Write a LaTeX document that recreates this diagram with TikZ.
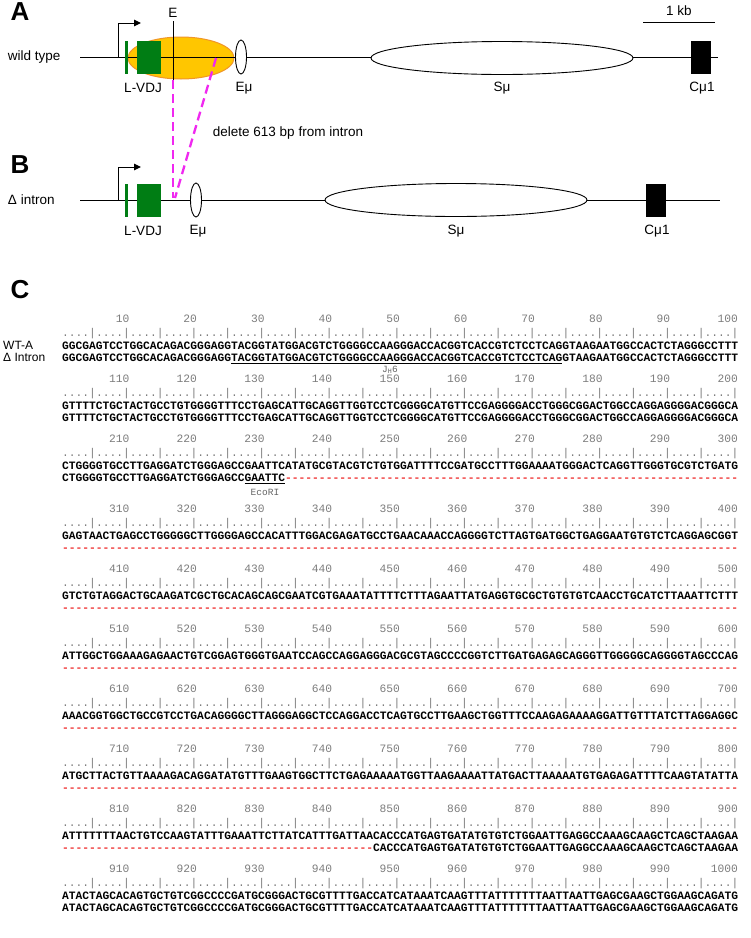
\documentclass[tikz,border=0pt]{standalone}
\usepackage{fontspec}
\setmainfont{Liberation Sans}
\newfontfamily\mono{Liberation Mono}
\usetikzlibrary{arrows.meta,shapes.geometric}
\definecolor{vdjgreen}{RGB}{0,125,20}
\definecolor{gold}{RGB}{255,198,0}
\definecolor{goldedge}{RGB}{240,150,40}
\definecolor{mag}{RGB}{240,40,240}
\definecolor{rulergray}{RGB}{125,125,125}
\definecolor{gapred}{RGB}{240,50,50}
\newcommand{\gaps}[1]{{\color{gapred}\count255=0 \loop\ifnum\count255<#1 -\advance\count255 by 1 \repeat}}
\begin{document}
\begin{tikzpicture}[x=1pt,y=-1pt,
  lbl/.style={font=\fontsize{13.5}{16}\selectfont, inner sep=0, outer sep=0},
  panel/.style={font=\fontsize{26}{30}\selectfont\bfseries, inner sep=0},
  seqtxt/.style={anchor=base west, inner sep=0, outer sep=0, font=\mono\fontsize{11.27}{13}\selectfont\bfseries},
  namelbl/.style={anchor=base west, inner sep=0, font=\fontsize{12}{13}\selectfont},
  ruler/.style={anchor=base west, inner sep=0, text=rulergray, font=\mono\fontsize{11.27}{13}\selectfont},
  tick/.style={anchor=base east, inner sep=0, text=rulergray, font=\mono\fontsize{11.27}{13}\selectfont},
  sitelbl/.style={anchor=base, inner sep=0, text=rulergray!80!black, font=\mono\fontsize{9.5}{11}\selectfont},
  gene/.style={line width=0.9pt},
  emu/.style={draw, fill=white, ellipse, line width=0.9pt, minimum width=11pt, minimum height=34pt, inner sep=0},
  smu/.style={draw, fill=white, ellipse, line width=0.9pt, minimum width=262pt, minimum height=33pt, inner sep=0},
  cmu/.style={fill=black, minimum width=20pt, minimum height=33pt, inner sep=0},
  vdj/.style={fill=vdjgreen, minimum width=24pt, minimum height=33pt, inner sep=0},
  leader/.style={fill=vdjgreen, minimum width=3.5pt, minimum height=33pt, inner sep=0},
  prom/.style={line width=1pt, -{Triangle[length=7pt,width=6.5pt]}},
  deldash/.style={mag, line width=2.3pt, dash pattern=on 9pt off 5pt},
  uline/.style={line width=0.8pt}
]
\useasboundingbox (0,0) rectangle (751,938);
\fill[white] (0,0) rectangle (751,938);

% ---------------- Panel A ----------------
\node[panel] (pA) at (20,12) {A};
\node[lbl, anchor=west] (wt) at (8,57) {wild type};
\node[fill=gold, draw=goldedge, line width=1pt, ellipse, minimum width=106pt, minimum height=42pt, inner sep=0] (orange) at (181,58) {};
\coordinate (a0) at (80,57);
\coordinate (a1) at (718,57);
\draw[gene] (a0) -- (a1);
\node[leader] (lA) at (126.5,57) {};
\node[vdj] (vA) at (149,57) {};
\coordinate (pa0) at (118,57);
\coordinate (pa1) at (118,23);
\coordinate (pa2) at (141,23);
\draw[prom] (pa0) -- (pa1) -- (pa2);
\node[lbl] (Elbl) at (173,13) {E};
\coordinate (e0) at (173,21);
\coordinate (e1) at (173,80);
\draw[line width=0.8pt] (e0) -- (e1);
\node[emu] (emuA) at (241,57) {};
\node[smu] (smuA) at (502,58) {};
\node[cmu] (cmuA) at (701,57.5) {};
\node[lbl] (tA1) at (143,88) {L-VDJ};
\node[lbl] (tA2) at (244,88) {Eμ};
\node[lbl] (tA3) at (502,88) {Sμ};
\node[lbl] (tA4) at (702,88) {Cμ1};
\node[lbl] (kb) at (679,11) {1 kb};
\coordinate (kb0) at (643,22);
\coordinate (kb1) at (715,22);
\draw[line width=0.8pt] (kb0) -- (kb1);

% deletion lines
\coordinate (d1) at (216,58);
\coordinate (d2) at (175,198);
\coordinate (d3) at (173,198);
\draw[deldash] (e1) -- (d3);
\draw[deldash] (d1) -- (d2);
\node[lbl] (del) at (288,133) {delete 613 bp from intron};

% ---------------- Panel B ----------------
\node[panel] (pB) at (20,165) {B};
\node[lbl, anchor=west] (di) at (8,200) {Δ intron};
\coordinate (b0) at (80,200);
\coordinate (b1) at (720,200);
\draw[gene] (b0) -- (b1);
\node[leader] (lB) at (126.5,200) {};
\node[vdj] (vB) at (149,200) {};
\coordinate (pb0) at (118,200);
\coordinate (pb1) at (118,167);
\coordinate (pb2) at (141,167);
\draw[prom] (pb0) -- (pb1) -- (pb2);
\node[emu] (emuB) at (196,200) {};
\node[smu] (smuB) at (456,200) {};
\node[cmu] (cmuB) at (656,200) {};
\node[lbl] (tB1) at (143,231) {L-VDJ};
\node[lbl] (tB2) at (198,231) {Eμ};
\node[lbl] (tB3) at (456,231) {Sμ};
\node[lbl] (tB4) at (657,231) {Cμ1};

% ---------------- Panel C ----------------
\node[panel] (pC) at (20,290) {C};
\foreach \r/\yb in {0/322.5,1/382.5,2/442.5,3/512.5,4/572.5,5/632.5,6/692.5,7/752.5,8/812.5,9/872.5} {
  \foreach \k in {1,...,10} {
    \pgfmathtruncatemacro{\num}{\r*100+\k*10}
    \node[tick] (n\num) at ({62+67.6*\k},\yb) {\num};
  }
  \node[ruler] (rul\r) at (62,\yb+14) {....|....|....|....|....|....|....|....|....|....|....|....|....|....|....|....|....|....|....|....|};
}
\node[namelbl] (wtA) at (3,349.5) {WT-A};
\node[namelbl] (dIn) at (3,361) {Δ Intron};

% row 1
\node[seqtxt] (s1a) at (62,349.5) {GGCGAGTCCTGGCACAGACGGGAGGTACGGTATGGACGTCTGGGGCCAAGGGACCACGGTCACCGTCTCCTCAGGTAAGAATGGCCACTCTAGGGCCTTT};
\node[seqtxt] (s1b) at (62,361) {GGCGAGTCCTGGCACAGACGGGAGGTACGGTATGGACGTCTGGGGCCAAGGGACCACGGTCACCGTCTCCTCAGGTAAGAATGGCCACTCTAGGGCCTTT};
\coordinate (j0) at (231,363.5);
\coordinate (j1) at (562,363.5);
\draw[uline] (j0) -- (j1);
\node[sitelbl] (jh) at (390,372.5) {J\textsubscript{H}6};
% row 2
\node[seqtxt] (s2a) at (62,409.5) {GTTTTCTGCTACTGCCTGTGGGGTTTCCTGAGCATTGCAGGTTGGTCCTCGGGGCATGTTCCGAGGGGACCTGGGCGGACTGGCCAGGAGGGGACGGGCA};
\node[seqtxt] (s2b) at (62,421) {GTTTTCTGCTACTGCCTGTGGGGTTTCCTGAGCATTGCAGGTTGGTCCTCGGGGCATGTTCCGAGGGGACCTGGGCGGACTGGCCAGGAGGGGACGGGCA};
% row 3
\node[seqtxt] (s3a) at (62,469.5) {CTGGGGTGCCTTGAGGATCTGGGAGCCGAATTCATATGCGTACGTCTGTGGATTTTCCGATGCCTTTGGAAAATGGGACTCAGGTTGGGTGCGTCTGATG};
\node[seqtxt] (s3b) at (62,481) {CTGGGGTGCCTTGAGGATCTGGGAGCCGAATTC\gaps{67}};
\coordinate (r0) at (244.5,483.5);
\coordinate (r1) at (285.1,483.5);
\draw[uline] (r0) -- (r1);
\node[sitelbl] (eco) at (265,495) {EcoRI};
% row 4
\node[seqtxt] (s4a) at (62,539.5) {GAGTAACTGAGCCTGGGGGCTTGGGGAGCCACATTTGGACGAGATGCCTGAACAAACCAGGGGTCTTAGTGATGGCTGAGGAATGTGTCTCAGGAGCGGT};
\node[seqtxt] (s4b) at (62,551) {\gaps{100}};
% row 5
\node[seqtxt] (s5a) at (62,599.5) {GTCTGTAGGACTGCAAGATCGCTGCACAGCAGCGAATCGTGAAATATTTTCTTTAGAATTATGAGGTGCGCTGTGTGTCAACCTGCATCTTAAATTCTTT};
\node[seqtxt] (s5b) at (62,611) {\gaps{100}};
% row 6
\node[seqtxt] (s6a) at (62,659.5) {ATTGGCTGGAAAGAGAACTGTCGGAGTGGGTGAATCCAGCCAGGAGGGACGCGTAGCCCCGGTCTTGATGAGAGCAGGGTTGGGGGCAGGGGTAGCCCAG};
\node[seqtxt] (s6b) at (62,671) {\gaps{100}};
% row 7
\node[seqtxt] (s7a) at (62,719.5) {AAACGGTGGCTGCCGTCCTGACAGGGGCTTAGGGAGGCTCCAGGACCTCAGTGCCTTGAAGCTGGTTTCCAAGAGAAAAGGATTGTTTATCTTAGGAGGC};
\node[seqtxt] (s7b) at (62,731) {\gaps{100}};
% row 8
\node[seqtxt] (s8a) at (62,779.5) {ATGCTTACTGTTAAAAGACAGGATATGTTTGAAGTGGCTTCTGAGAAAAATGGTTAAGAAAATTATGACTTAAAAATGTGAGAGATTTTCAAGTATATTA};
\node[seqtxt] (s8b) at (62,791) {\gaps{100}};
% row 9
\node[seqtxt] (s9a) at (62,839.5) {ATTTTTTTAACTGTCCAAGTATTTGAAATTCTTATCATTTGATTAACACCCATGAGTGATATGTGTCTGGAATTGAGGCCAAAGCAAGCTCAGCTAAGAA};
\node[seqtxt] (s9b) at (62,851) {\gaps{46}CACCCATGAGTGATATGTGTCTGGAATTGAGGCCAAAGCAAGCTCAGCTAAGAA};
% row 10
\node[seqtxt] (s10a) at (62,899.5) {ATACTAGCACAGTGCTGTCGGCCCCGATGCGGGACTGCGTTTTGACCATCATAAATCAAGTTTATTTTTTTAATTAATTGAGCGAAGCTGGAAGCAGATG};
\node[seqtxt] (s10b) at (62,911) {ATACTAGCACAGTGCTGTCGGCCCCGATGCGGGACTGCGTTTTGACCATCATAAATCAAGTTTATTTTTTTAATTAATTGAGCGAAGCTGGAAGCAGATG};
\end{tikzpicture}
\end{document}
